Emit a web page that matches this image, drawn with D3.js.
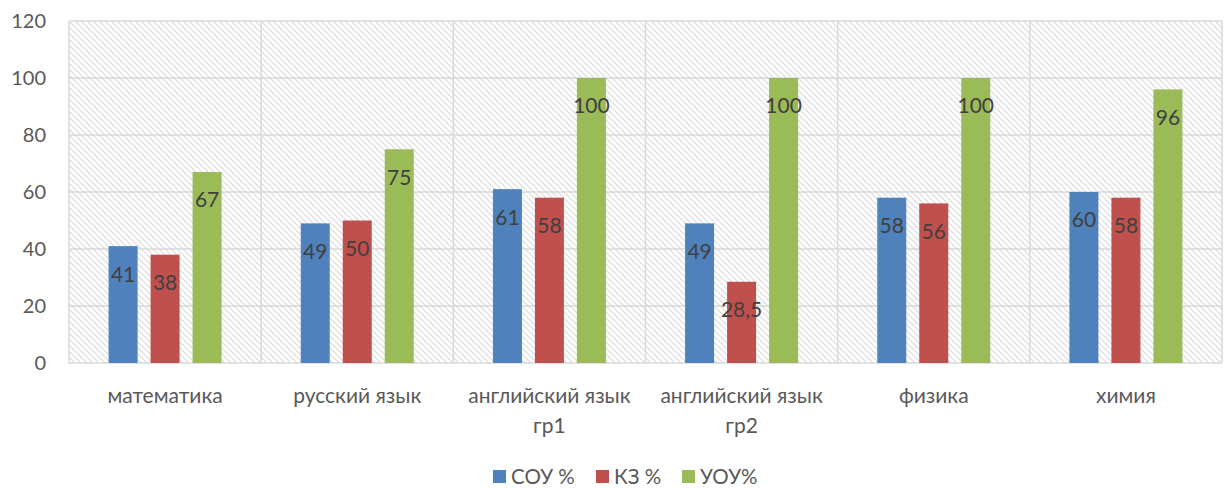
<!DOCTYPE html>
<html><head><meta charset="utf-8">
<script src="https://cdn.jsdelivr.net/npm/d3@7"></script>
<style>body{margin:0;background:#fff;}svg{display:block;font-family:Lato,"Open Sans",sans-serif;}</style>
</head><body>
<svg id="c" width="1231" height="488"></svg>
<script>
const categories = [["математика"],["русский язык"],["английский язык","гр1"],["английский язык","гр2"],["физика"],["химия"]];
const seriesNames = ["СОУ %","КЗ %","УОУ%"];
const seriesColors = ["#4f81bd","#c0504d","#9bbb59"];
const sou = [41,49,61,49,58,60];
const kz = [38,50,58,28.5,56,58];
const uou = [67,75,100,100,100,96];
const valueLabels = [["41","49","61","49","58","60"],["38","50","58","28,5","56","58"],["67","75","100","100","100","96"]];
const yTicks = [0,20,40,60,80,100,120];

const series = [sou,kz,uou];
const svg = d3.select("#c");
const L=69,R=1222,T=21,B=363;
const x = d3.scaleBand().domain(d3.range(categories.length)).range([L,R]).padding(0);
const y = d3.scaleLinear().domain([0,120]).range([B,T]);

const defs = svg.append("defs");
const pat = defs.append("pattern").attr("id","hatch").attr("patternUnits","userSpaceOnUse").attr("width",6).attr("height",6);
pat.append("rect").attr("width",6).attr("height",6).attr("fill","#fff");
pat.append("path").attr("d","M-1,-1L7,7M-1,5L1,7M5,-1L7,1").attr("stroke","#dadada").attr("stroke-width",1.1);

svg.append("rect").attr("x",L).attr("y",T).attr("width",R-L).attr("height",B-T).attr("fill","url(#hatch)");

svg.append("g").selectAll("line").data(yTicks).join("line")
  .attr("x1",L).attr("x2",R).attr("y1",d=>y(d)).attr("y2",d=>y(d))
  .attr("stroke","#d9d9d9").attr("stroke-width",1.5);
svg.append("g").selectAll("line").data(d3.range(categories.length+1)).join("line")
  .attr("x1",d=>L+d*x.step()).attr("x2",d=>L+d*x.step()).attr("y1",T).attr("y2",B)
  .attr("stroke","#d9d9d9").attr("stroke-width",1.5);

const bw = 29;
series.forEach((s,si)=>{
  const g = svg.append("g");
  g.selectAll("rect").data(s).join("rect")
    .attr("x",(d,i)=>x(i)+x.bandwidth()/2+(si-1)*42-bw/2)
    .attr("width",bw)
    .attr("y",d=>y(d)).attr("height",d=>B-y(d))
    .attr("fill",seriesColors[si]);
  g.selectAll("text").data(s).join("text")
    .attr("x",(d,i)=>x(i)+x.bandwidth()/2+(si-1)*42)
    .attr("y",d=>y(d)+28)
    .attr("dy","0.35em")
    .attr("text-anchor","middle")
    .attr("font-size",21).attr("fill","#404040")
    .text((d,i)=>valueLabels[si][i]);
});

svg.append("g").selectAll("text").data(yTicks).join("text")
  .attr("x",46).attr("y",d=>y(d)).attr("dy","0.35em").attr("text-anchor","end")
  .attr("font-size",20).attr("fill","#595959").text(d=>d);

const cg = svg.append("g");
categories.forEach((lines,i)=>{
  lines.forEach((ln,j)=>{
    cg.append("text").attr("x",x(i)+x.bandwidth()/2).attr("y",396+j*30).attr("dy","0.35em")
      .attr("text-anchor","middle").attr("font-size",21).attr("fill","#595959").text(ln);
  });
});

const legX = [493,596,682];
const lg = svg.append("g");
seriesNames.forEach((n,i)=>{
  lg.append("rect").attr("x",legX[i]).attr("y",470).attr("width",13).attr("height",13).attr("fill",seriesColors[i]);
  lg.append("text").attr("x",legX[i]+18).attr("y",477).attr("dy","0.35em").attr("font-size",20.5).attr("fill","#595959").text(n);
});
</script>
</body></html>
